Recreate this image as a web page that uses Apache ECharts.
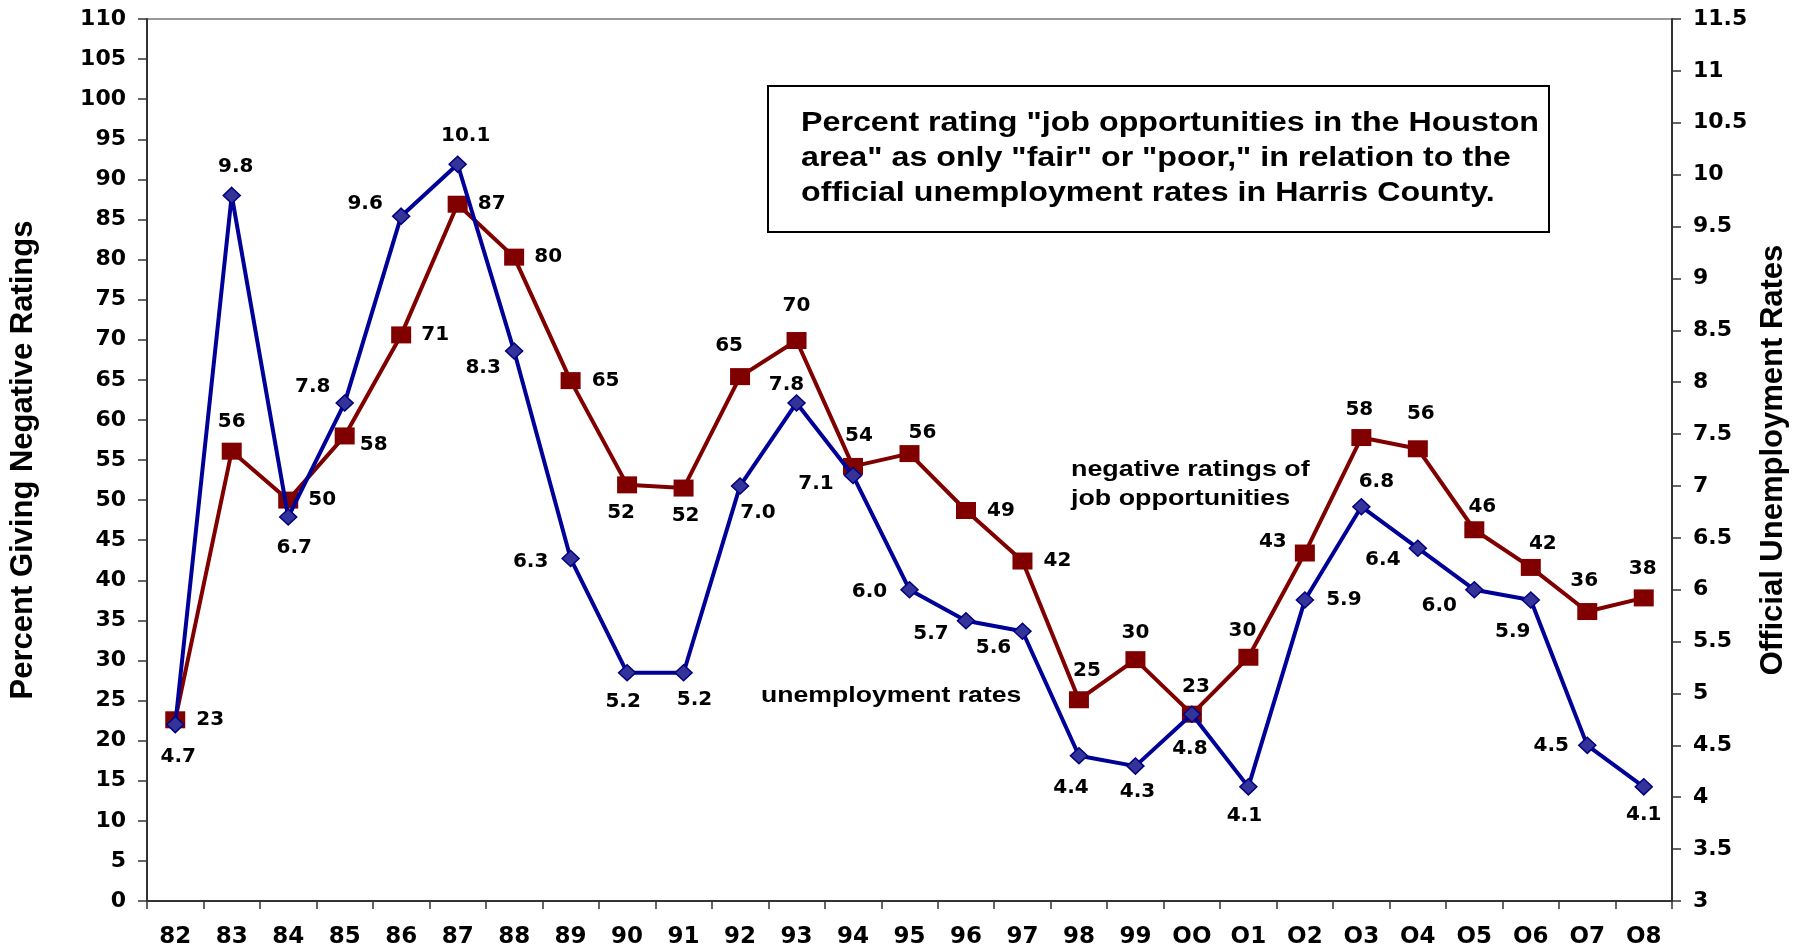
<!DOCTYPE html>
<html>
<head>
<meta charset="utf-8">
<script src="https://cdn.jsdelivr.net/npm/echarts@6/dist/echarts.min.js"></script>
<style>
  html, body { margin: 0; padding: 0; background: #fff; }
  #chart { width: 1803px; height: 951px; }
</style>
</head>
<body>
<div id="chart"></div>
<script>
// years on the x axis
var years = ['82', '83', '84', '85', '86', '87', '88', '89', '90', '91', '92', '93', '94', '95',
  '96', '97', '98', '99', 'OO', 'O1', 'O2', 'O3', 'O4', 'O5', 'O6', 'O7', 'O8']
// percent rating job opportunities fair/poor (left axis)
var negRatings = [22.6, 56.1, 50, 58, 70.6, 86.9, 80.3, 64.9, 51.9, 51.5, 65.4, 69.9, 54.2, 55.8,
  48.7, 42.4, 25.1, 30.1, 23.3, 30.4, 43.4, 57.8, 56.4, 46.3, 41.6, 36.1, 37.8]
// official unemployment rate, Harris County (right axis)
var unempRates = [4.7, 9.8, 6.7, 7.8, 9.6, 10.1, 8.3, 6.3, 5.2, 5.2, 7.0, 7.8, 7.1, 6.0,
  5.7, 5.6, 4.4, 4.3, 4.8, 4.1, 5.9, 6.8, 6.4, 6.0, 5.9, 4.5, 4.1]

// where each value label sits relative to its marker
var negLabelOffsets = [[35, 0], [0, -29], [34, 0], [29, 9], [34, 0], [34, 0], [34, 0], [35, 0],
  [-6, 28], [2, 28], [-11, -31], [0, -35], [6, -31], [13, -21], [35, 0], [35, 0], [8, -29],
  [0, -27], [4, -27], [-6, -26], [-32, -11], [-2, -28], [3, -35], [8, -23], [12, -24], [-3, -31], [-1, -29]]
var unempLabelOffsets = [[3, 32], [4, -29], [6, 31], [-32, -16], [-36, -12], [8, -28], [-31, 17],
  [-40, 3], [-4, 29], [11, 27], [18, 27], [-10, -18], [-37, 8], [-40, 2], [-35, 13], [-29, 17],
  [-8, 32], [2, 26], [-2, 35], [-4, 29], [39, 0], [15, -25], [-35, 12], [-35, 16], [-18, 32], [-36, 0], [0, 28]]

var FONT = 'Liberation Sans, Arial, sans-serif'
var NUMFONT = 'DejaVu Sans, Liberation Sans, sans-serif'

var myChart = echarts.init(document.getElementById('chart'))

var labelStyle = {
  show: true,
  position: 'inside',
  color: '#000',
  fontFamily: NUMFONT,
  fontWeight: 'bold',
  fontSize: 20
}

var option = {
  animation: false,
  backgroundColor: '#fff',
  grid: {
    left: 145,
    right: 131,
    top: 19,
    bottom: 50,
    show: true,
    borderColor: '#999',
    borderWidth: 2
  },
  xAxis: {
    type: 'category',
    data: years,
    boundaryGap: true,
    axisLine: { lineStyle: { color: '#333', width: 2 } },
    axisTick: { show: true, interval: 0, length: 8, lineStyle: { color: '#333', width: 1.5 } },
    axisLabel: {
      interval: 0,
      margin: 25,
      color: '#000',
      fontFamily: NUMFONT,
      fontWeight: 'bold',
      fontSize: 23
    },
    splitLine: { show: false }
  },
  yAxis: [
    {
      type: 'value',
      min: 0,
      max: 110,
      interval: 5,
      position: 'left',
      name: 'Percent Giving Negative Ratings',
      nameLocation: 'middle',
      nameRotate: 90,
      nameGap: 108,
      nameTextStyle: { color: '#000', fontFamily: FONT, fontWeight: 'bold', fontSize: 31 },
      axisLine: { show: true, lineStyle: { color: '#333', width: 2 } },
      axisTick: { show: true, length: 9, lineStyle: { color: '#333', width: 1.5 } },
      axisLabel: { margin: 21, color: '#000', fontFamily: NUMFONT, fontWeight: 'bold', fontSize: 22 },
      splitLine: { show: false }
    },
    {
      type: 'value',
      min: 3,
      max: 11.5,
      interval: 0.5,
      position: 'right',
      name: 'Official Unemployment Rates',
      nameLocation: 'middle',
      nameRotate: 90,
      nameGap: 84,
      nameTextStyle: { color: '#000', fontFamily: FONT, fontWeight: 'bold', fontSize: 31 },
      axisLine: { show: true, lineStyle: { color: '#333', width: 2 } },
      axisTick: { show: true, length: 9, lineStyle: { color: '#333', width: 1.5 } },
      axisLabel: { margin: 21, color: '#000', fontFamily: NUMFONT, fontWeight: 'bold', fontSize: 22 },
      splitLine: { show: false }
    }
  ],
  series: [
    {
      name: 'negative ratings of job opportunities',
      type: 'line',
      yAxisIndex: 0,
      data: negRatings.map(function (v, i) {
        return { value: v, label: { offset: negLabelOffsets[i] } }
      }),
      symbol: 'rect',
      symbolSize: [20, 17],
      lineStyle: { color: '#800000', width: 4 },
      itemStyle: { color: '#800000', borderColor: '#800000', borderWidth: 0 },
      label: Object.assign({}, labelStyle, {
        formatter: function (p) { return Math.round(p.value) }
      }),
      z: 2
    },
    {
      name: 'unemployment rates',
      type: 'line',
      yAxisIndex: 1,
      data: unempRates.map(function (v, i) {
        return { value: v, label: { offset: unempLabelOffsets[i] } }
      }),
      symbol: 'diamond',
      symbolSize: [17, 16],
      lineStyle: { color: '#000099', width: 4 },
      itemStyle: { color: '#333399', borderColor: '#000080', borderWidth: 1.5 },
      label: Object.assign({}, labelStyle, {
        formatter: function (p) { return p.value.toFixed(1) }
      }),
      z: 3
    }
  ],
  graphic: [
    {
      type: 'rect',
      shape: { x: 768, y: 86, width: 781, height: 146 },
      style: { fill: '#fff', stroke: '#000', lineWidth: 2 },
      z: 10
    },
    {
      type: 'text',
      x: 801,
      y: 106,
      scaleX: 1.15,
      style: {
        text: 'Percent rating "job opportunities in the Houston\narea" as only "fair" or "poor," in relation to the\nofficial unemployment rates in Harris County.',
        fill: '#000',
        font: 'bold 28px ' + FONT,
        lineHeight: 35
      },
      z: 11
    },
    {
      type: 'text',
      x: 1071,
      y: 455,
      scaleX: 1.22,
      style: {
        text: 'negative ratings of\njob opportunities',
        fill: '#000',
        font: 'bold 22px ' + FONT,
        lineHeight: 29
      },
      z: 11
    },
    {
      type: 'text',
      x: 761,
      y: 685,
      scaleX: 1.21,
      style: {
        text: 'unemployment rates',
        fill: '#000',
        font: 'bold 22px ' + FONT
      },
      z: 11
    }
  ]
}

myChart.setOption(option)
</script>
</body>
</html>
